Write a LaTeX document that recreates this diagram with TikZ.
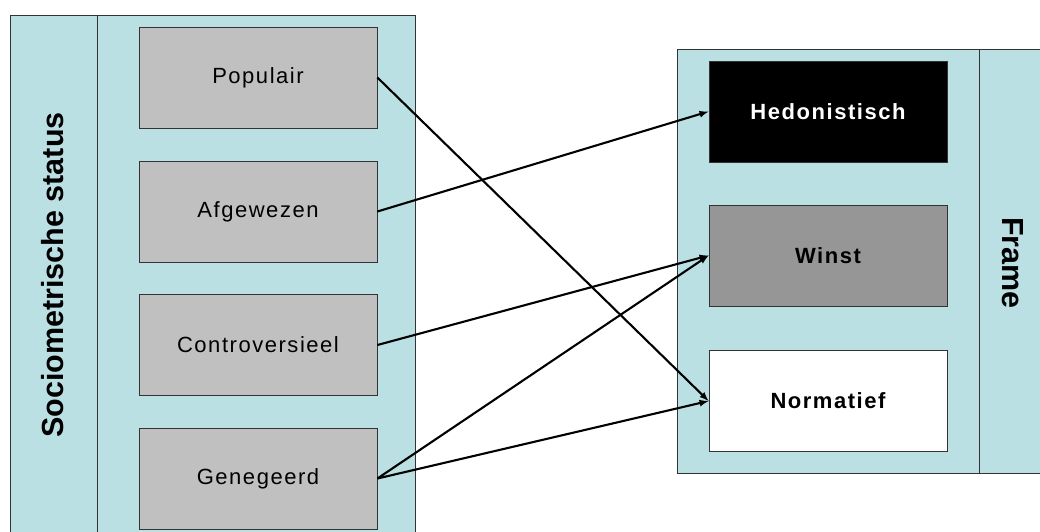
\documentclass[tikz,border=0pt]{standalone}
\usepackage{fontspec}
\setmainfont{Liberation Sans}
\newfontfamily\spacedfont[LetterSpace=7]{Liberation Sans}
\usetikzlibrary{arrows}
\definecolor{panelblue}{RGB}{187,224,227}
\definecolor{boxgray}{RGB}{192,192,192}
\definecolor{winstgray}{RGB}{150,150,150}
\tikzset{
  statusbox/.style={draw=black!80, line width=0.8pt, fill=boxgray, minimum width=238pt, minimum height=101pt, font=\spacedfont\fontsize{22}{26}\selectfont},
  framebox/.style={draw=black!80, line width=0.8pt, minimum width=238pt, minimum height=101pt, font=\spacedfont\bfseries\fontsize{22}{26}\selectfont},
  paneltitle/.style={font=\bfseries\fontsize{30.5}{36}\selectfont},
  link/.style={-latex, line width=2.1pt}
}
\begin{document}
\begin{tikzpicture}[x=1pt,y=-1pt]
  \useasboundingbox (0,0) rectangle (1040,531);
  % left panel
  \filldraw[fill=panelblue, draw=black!80, line width=0.8pt] (10,15) rectangle (415,545);
  \draw[black!80, line width=0.8pt] (97,15) -- (97,545);
  \node[paneltitle, rotate=90] (status) at (53,275) {Sociometrische status};
  % right panel
  \filldraw[fill=panelblue, draw=black!80, line width=0.8pt] (677,49) rectangle (1050,473);
  \draw[black!80, line width=0.8pt] (979,49) -- (979,473);
  \node[paneltitle, rotate=-90] (frame) at (1013,263) {Frame};
  % status boxes
  \node[statusbox] (populair) at (258,77.5) {Populair};
  \node[statusbox] (afgewezen) at (258,211.5) {Afgewezen};
  \node[statusbox] (controversieel) at (258,345) {Controversieel};
  \node[statusbox] (genegeerd) at (258,478.5) {Genegeerd};
  % frame boxes
  \node[framebox, fill=black, text=white] (hedonistisch) at (828,111.5) {Hedonistisch};
  \node[framebox, fill=winstgray] (winst) at (828,255.5) {Winst};
  \node[framebox, fill=white] (normatief) at (828,401) {Normatief};
  % links
  \draw[link] (populair.east) -- (normatief.west);
  \draw[link] (afgewezen.east) -- (hedonistisch.west);
  \draw[link] (controversieel.east) -- (winst.west);
  \draw[link] (genegeerd.east) -- (winst.west);
  \draw[link] (genegeerd.east) -- (normatief.west);
\end{tikzpicture}
\end{document}
